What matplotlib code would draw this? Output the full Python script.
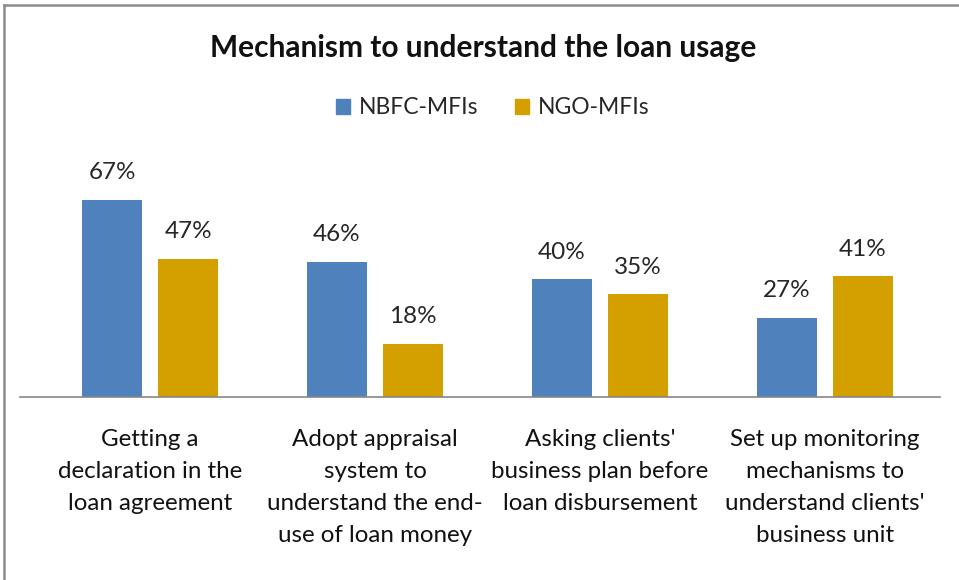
import matplotlib
matplotlib.use("Agg")
import matplotlib.pyplot as plt
from matplotlib.lines import Line2D
from matplotlib.patches import Patch
import numpy as np

plt.rcParams["font.family"] = ["Lato", "DejaVu Sans"]

# Datos
categorias = [
    "Getting a\ndeclaration in the\nloan agreement",
    "Adopt appraisal\nsystem to\nunderstand the end-\nuse of loan money",
    "Asking clients'\nbusiness plan before\nloan disbursement",
    "Set up monitoring\nmechanisms to\nunderstand clients'\nbusiness unit",
]
series = ["NBFC-MFIs", "NGO-MFIs"]
nbfc = [67, 46, 40, 27]
ngo = [47, 18, 35, 41]

azul = "#4F81BD"
dorado = "#D4A000"
texto = "#262626"

fig = plt.figure(figsize=(9.59, 5.80), dpi=100)
ax = fig.add_axes([20 / 959, 1 - 397 / 580, 920 / 959, 247 / 580])

x = np.arange(len(categorias))
ancho = 0.2667
desp = 0.169
b1 = ax.bar(x - desp, nbfc, ancho, color=azul)
b2 = ax.bar(x + desp, ngo, ancho, color=dorado)

for barras, valores in ((b1, nbfc), (b2, ngo)):
    for b, v in zip(barras, valores):
        ax.annotate(f"{v}%", (b.get_x() + b.get_width() / 2, v),
                    xytext=(0, 19.5), textcoords="offset points",
                    ha="center", va="center", fontsize=17.5, color=texto)

ax.set_xlim(-0.578, 3.511)
ax.set_ylim(0, 84)
ax.set_yticks([])
ax.set_xticks(x)
ax.set_xticklabels(categorias, fontsize=17.4, color="#111111", linespacing=1.64)
ax.tick_params(axis="x", length=0, pad=23)
for s in ("top", "right", "left"):
    ax.spines[s].set_visible(False)
ax.spines["bottom"].set_color("#868686")
ax.spines["bottom"].set_linewidth(1.2)

fig.text(483 / 959, 1 - 48 / 580, "Mechanism to understand the loan usage",
         ha="center", va="center", fontsize=21.5, fontweight="bold", color="#111111")

manejadores = [Patch(color=azul), Patch(color=dorado)]
fig.legend(manejadores, series, loc="center", ncol=2,
           bbox_to_anchor=(493 / 959, 1 - 108 / 580), frameon=False,
           fontsize=16.5, handlelength=0.6, handleheight=0.6,
           handletextpad=0.4, columnspacing=1.6, labelcolor=texto)

# marco del gráfico (solo borde superior e izquierdo visibles)
fig.add_artist(Line2D([4 / 959, 4 / 959], [0, 1 - 5 / 580], color="#8C8C8C", lw=1.8))
fig.add_artist(Line2D([4 / 959, 1], [1 - 5 / 580, 1 - 5 / 580], color="#8C8C8C", lw=1.8))

fig.savefig("out.png", dpi=100)
